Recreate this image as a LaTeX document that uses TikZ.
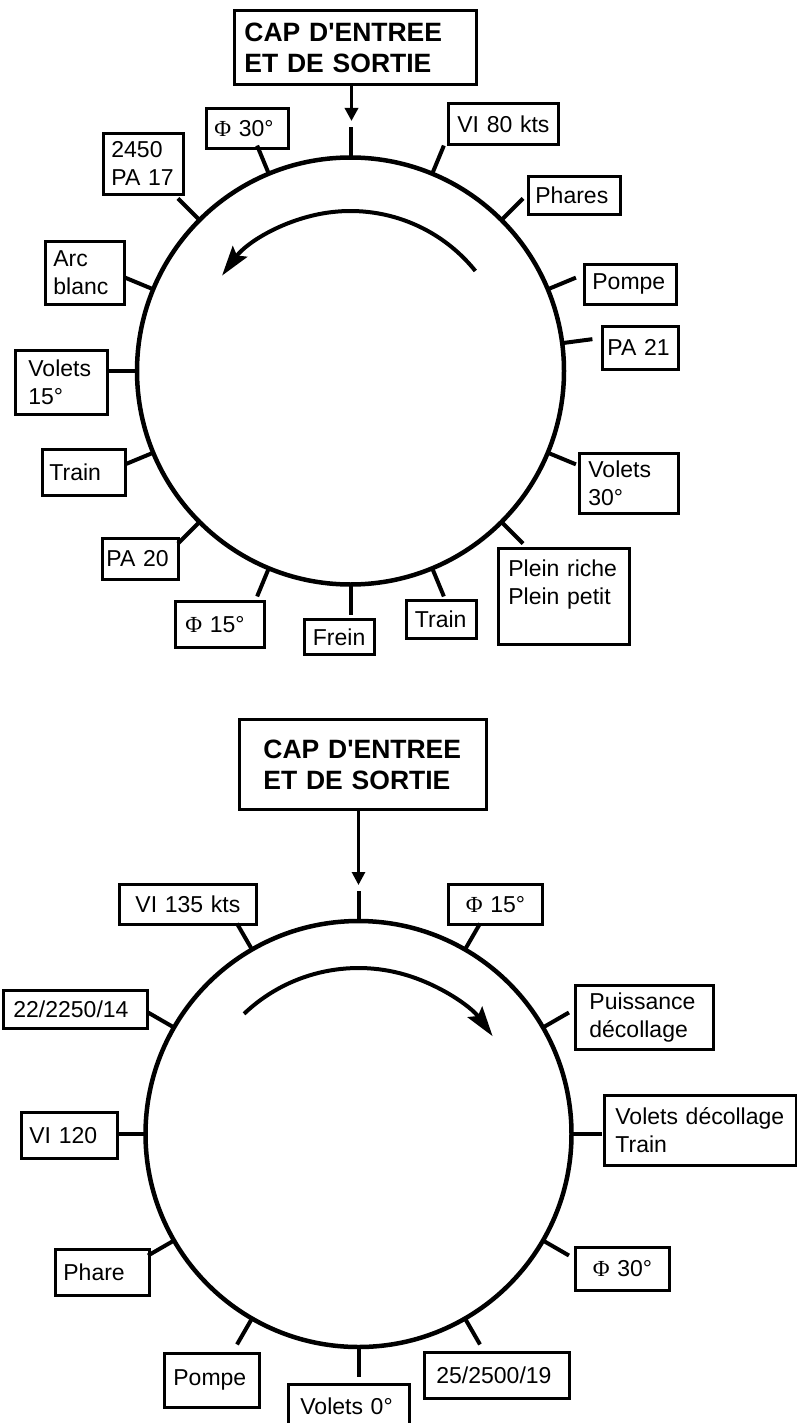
\documentclass[tikz,border=0pt]{standalone}
\usepackage{fontspec}
\setmainfont{Liberation Sans}
\newfontfamily\phifont{Liberation Serif}
\usepackage{tikz}
\usetikzlibrary{arrows.meta,calc}

\tikzset{
  tag/.style={draw, line width=2.8pt, anchor=north west, align=left, inner xsep=8pt, inner ysep=0pt, font=\fontsize{23}{28}\selectfont},
  headbox/.style={tag, font=\bfseries\fontsize{26.5}{31}\selectfont},
  rim/.style={line width=4.5pt},
  tickline/.style={line width=4pt},
  feed/.style={line width=3.5pt, -{Triangle[width=13pt,length=13pt]}},
  sweep/.style={line width=4pt, -{Stealth[length=30pt,width=18pt,inset=5pt]}}
}

\begin{document}
\begin{tikzpicture}[x=1pt, y=-1pt]
    \useasboundingbox (0,0) rectangle (797,1423);

    % ---------- Approach circuit (top)
    \coordinate (c1) at (350.5,371);
    \draw[rim] (c1) circle (213.5);
    \foreach \a [count=\i] in {7.5,22.5,45,67.5,90,112.5,135,157.5,180,202.5,225,247.5,270,292.5,315,337.5} {
        \coordinate (s\i) at ($(c1)+(-\a:213.5)$);
        \coordinate (e\i) at ($(c1)+(-\a:244)$);
        \draw[tickline] (s\i) -- (e\i);
    }
    \draw[sweep] ($(c1)+(-38.7:160)$) arc[start angle=-38.7, end angle=-143.4, radius=160];

    \node[headbox, inner xsep=10pt, text width=222pt, minimum height=74pt] (capA) at (233,9) {CAP D\textquotesingle ENTREE\\ET DE SORTIE};
    \coordinate (tipA) at (351.5,121);
    \draw[feed] (capA.south -| tipA) -- (tipA);

    \node[tag, text width=66pt, minimum height=40pt] (phiA) at (205,107) {{\phifont Φ} 30°};
    \node[tag, text width=64pt, minimum height=61pt] (pa17) at (102,132) {2450\\PA 17};
    \node[tag, text width=63pt, minimum height=63pt] (arcb) at (44,240) {Arc\\blanc};
    \node[tag, inner xsep=13pt, text width=66pt, minimum height=64pt] (volA) at (14,349) {Volets\\15°};
    \node[tag, inner xsep=7pt, text width=69pt, minimum height=46pt] (trainA) at (41,448) {Train};
    \node[tag, inner xsep=4pt, text width=68pt, minimum height=41pt] (pa20) at (101,537) {PA 20};
    \node[tag, inner xsep=10pt, text width=69pt, minimum height=46pt] (phiB) at (174,600) {{\phifont Φ} 15°};
    \node[tag, inner xsep=8.5pt, text width=53pt, minimum height=35pt] (frein) at (303,618) {Frein};
    \node[tag, inner xsep=8.5pt, text width=53pt, minimum height=38pt] (trainB) at (405,599) {Train};
    \node[tag, inner xsep=10pt, text width=111pt, minimum height=96pt] (plein) at (497,547) {Plein riche\\Plein petit\\\mbox{}};
    \node[tag, inner xsep=9pt, text width=92pt, minimum height=41pt] (vi80) at (447,102) {\mbox{VI 80 kts}};
    \node[tag, inner xsep=7pt, text width=78pt, minimum height=38pt] (phares) at (527,175) {Phares};
    \node[tag, text width=76pt, minimum height=40pt] (pompeA) at (583,263) {Pompe};
    \node[tag, inner xsep=5pt, text width=66pt, minimum height=43pt] (pa21) at (601,325) {PA 21};
    \node[tag, inner xsep=9pt, text width=81pt, minimum height=60pt] (volB) at (578,452) {Volets\\30°};

    % ---------- Departure circuit (bottom)
    \coordinate (c2) at (358.5,1134);
    \draw[rim] (c2) circle (213);
    \foreach \a [count=\i] in {0,30,...,330} {
        \coordinate (u\i) at ($(c2)+(-\a:213)$);
        \coordinate (v\i) at ($(c2)+(-\a:243)$);
        \draw[tickline] (u\i) -- (v\i);
    }
    \draw[sweep] ($(c2)+(-133.6:166)$) arc[start angle=-133.6, end angle=-36.1, radius=166];

    \node[headbox, inner xsep=24pt, text width=199pt, minimum height=90pt] (capB) at (238,718) {CAP D\textquotesingle ENTREE\\ET DE SORTIE};
    \coordinate (tipB) at (358.5,885);
    \draw[feed, line width=2.8pt] (capB.south -| tipB) -- (tipB);

    \node[tag, align=center, text width=121pt, minimum height=40pt] (vi135) at (118,883) {VI 135 kts};
    \node[tag, align=center, text width=78pt, minimum height=40pt] (phiC) at (447,883) {{\phifont Φ} 15°};
    \node[tag, inner xsep=10pt, text width=124pt, minimum height=38pt] (rA) at (2,989) {22/2250/14};
    \node[tag, inner xsep=14pt, text width=110pt, minimum height=64pt] (puiss) at (574,984) {Puissance\\décollage};
    \node[tag, inner xsep=11pt, text width=170pt, minimum height=70pt] (voldec) at (603,1094) {Volets décollage\\Train};
    \node[tag, text width=80pt, minimum height=46pt] (vi120) at (20,1111) {VI 120};
    \node[tag, text width=78pt, minimum height=46pt] (phare) at (54,1248) {Phare};
    \node[tag, inner xsep=9pt, text width=77pt, minimum height=54pt] (pompeB) at (163,1352) {Pompe};
    \node[tag, inner xsep=12pt, text width=97pt, minimum height=44pt] (vol0) at (287,1383) {Volets 0°};
    \node[tag, inner xsep=12pt, text width=121pt, minimum height=46pt] (rB) at (423,1351) {25/2500/19};
    \node[tag, align=center, text width=78pt, minimum height=43pt] (phiD) at (574,1246) {{\phifont Φ} 30°};
\end{tikzpicture}
\end{document}
